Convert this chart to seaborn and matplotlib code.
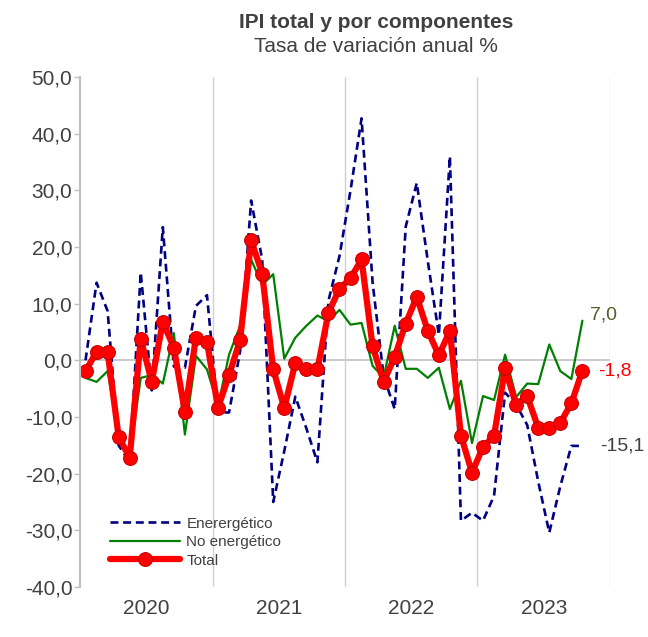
import matplotlib
matplotlib.use("Agg")
import matplotlib.pyplot as plt
import seaborn as sns
import numpy as np
import pandas as pd

# ---------------- data (monthly, Jan 2020 - Oct 2023) ----------------
years = ["2020", "2021", "2022", "2023"]

energetico = [
    0.0, 13.7, 8.7, -15.0, -18.0, 15.5, -5.3, 23.5, -1.1, -1.3, 9.6, 11.5,
    -9.2, -9.2, 1.6, 28.2, 17.8, -25.0, -16.0, -6.4, -12.0, -18.0, 10.5, 18.4,
    30.0, 42.7, 13.7, -2.8, -8.6, 23.6, 31.3, 17.5, 4.5, 36.0, -28.3, -26.9,
    -28.3, -23.9, -5.7, -7.8, -11.4, -21.4, -30.4, -22.2, -15.1, -15.1,
]
no_energetico = [
    -3.1, -3.8, -1.9, -13.3, -17.0, -3.1, -2.6, -4.1, 4.8, -13.1, 0.8, -1.6,
    -8.0, 1.0, 6.1, 17.8, 13.3, 15.2, 0.3, 4.0, 6.1, 7.9, 6.9, 8.9,
    6.3, 6.6, -1.0, -3.0, 6.1, -1.5, -1.5, -3.1, -1.3, -8.6, -3.6, -14.6,
    -6.3, -7.0, 1.0, -6.5, -4.1, -4.2, 2.8, -1.9, -3.3, 7.0,
]
total = [
    -1.9, 1.5, 1.5, -13.5, -17.2, 3.8, -3.8, 6.8, 2.2, -9.1, 4.0, 3.3,
    -8.4, -2.6, 3.6, 21.2, 15.3, -1.6, -8.4, -0.5, -1.6, -1.6, 8.4, 12.6,
    14.5, 17.8, 2.5, -3.8, 0.6, 6.5, 11.2, 5.2, 0.9, 5.2, -13.3, -19.8,
    -15.3, -13.3, -1.4, -7.9, -6.3, -11.9, -12.0, -11.0, -7.6, -1.8,
]
series_names = ["Enerergético", "No energético", "Total"]
end_labels = ["-15,1", "7,0", "-1,8"]
y_ticks = list(range(-40, 51, 10))

df = pd.DataFrame({
    "mes": np.arange(len(total)),
    "Enerergético": energetico,
    "No energético": no_energetico,
    "Total": total,
})

# ---------------- style ----------------
sns.set_theme(style="white")
plt.rcParams["font.family"] = ["Liberation Sans", "DejaVu Sans"]
txt = "#404040"
grid_c = "#D0D0D0"

fig = plt.figure(figsize=(6.48, 6.37), dpi=100)
ax = fig.add_axes([80 / 648, 1 - 587 / 637, 530 / 648, 510 / 637])

sns.lineplot(data=df, x="mes", y="Enerergético", ax=ax, color="#000080",
             linewidth=1.9, linestyle=(0, (3, 1.8)), label=series_names[0])
sns.lineplot(data=df, x="mes", y="No energético", ax=ax, color="#008000",
             linewidth=1.6, label=series_names[1])
sns.lineplot(data=df, x="mes", y="Total", ax=ax, color="#FF0000",
             linewidth=4.5, marker="o", markersize=10,
             markerfacecolor="#FF0000", markeredgecolor="#C00000",
             markeredgewidth=0.7, label=series_names[2])

n_years = len(years)
ax.set_xlim(-0.5, 12 * n_years - 0.5)
ax.set_ylim(-40, 50)
ax.set_xticks([12 * i + 5.5 for i in range(n_years)])
ax.set_xticklabels(years)
ax.set_xticks([12 * i + 11.5 for i in range(n_years)], minor=True)
ax.tick_params(axis="x", which="both", length=0, labelsize=15,
               labelcolor=txt, pad=9)
ax.grid(axis="x", which="minor", color=grid_c, linewidth=1.0)
ax.grid(axis="x", which="major", visible=False)
ax.grid(axis="y", visible=False)
ax.axhline(0, color="#C0C0C0", linewidth=1.2, zorder=0.5)

ax.set_yticks(y_ticks)
ax.set_yticklabels([f"{v:.1f}".replace(".", ",") for v in y_ticks])
ax.tick_params(axis="y", length=4, width=1, color="#BFBFBF",
               labelsize=15, labelcolor=txt, pad=1.5, left=True)

for s in ["top", "bottom", "right"]:
    ax.spines[s].set_visible(False)
ax.spines["left"].set_color("#BFBFBF")
ax.spines["left"].set_linewidth(1.5)
ax.set_xlabel("")
ax.set_ylabel("")

leg = ax.legend(loc="center left", bbox_to_anchor=(0.0566, 0.088),
                frameon=False, fontsize=11, handlelength=4.6,
                handletextpad=0.4, labelspacing=0.3, borderpad=0,
                borderaxespad=0)
for t in leg.get_texts():
    t.set_color(txt)

# end labels
last = len(total) - 1
ax.annotate(end_labels[0], (last, energetico[-1]), xytext=(12.5, 0),
            textcoords="offset points", va="center", ha="left",
            fontsize=14, color=txt, annotation_clip=False)
ax.annotate(end_labels[1], (last, no_energetico[-1]), xytext=(5.5, 4),
            textcoords="offset points", va="center", ha="left",
            fontsize=14, color="#4F6228", annotation_clip=False)
ax.annotate(end_labels[2], (last, total[-1]), xytext=(11, 0),
            textcoords="offset points", va="center", ha="left",
            fontsize=14, color="#FF0000", annotation_clip=False)

fig.text(376 / 648, 1 - 23 / 637, "IPI total y por componentes",
         ha="center", va="center", fontsize=15, fontweight="bold", color=txt)
fig.text(376 / 648, 1 - 47 / 637, "Tasa de variación anual %",
         ha="center", va="center", fontsize=15, color=txt)

fig.savefig("out.png", dpi=100)
